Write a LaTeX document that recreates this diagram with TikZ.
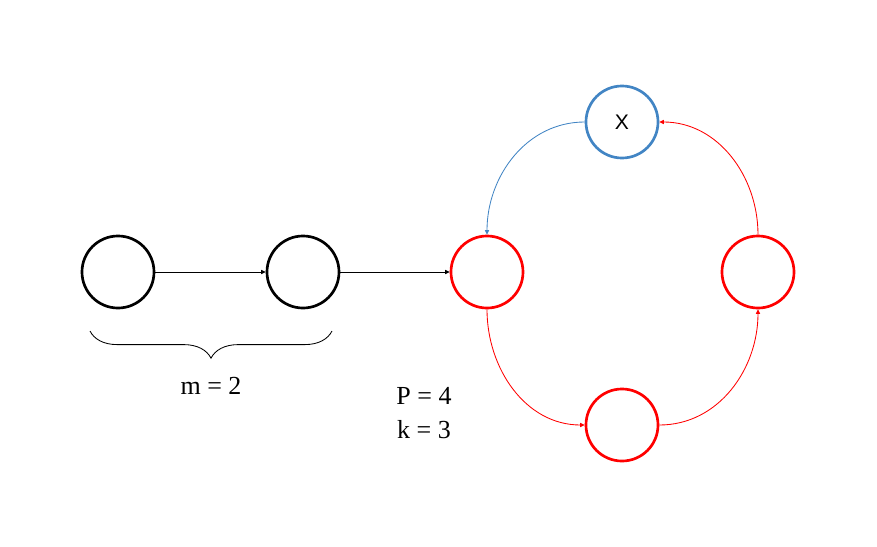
\documentclass[tikz,border=0pt]{standalone}
\usepackage{fontspec}
\setmainfont{Liberation Serif}
\newfontfamily\sansx{Liberation Sans}
\usetikzlibrary{arrows.meta,decorations.pathreplacing}
\definecolor{xblue}{RGB}{66,133,196}
\definecolor{xred}{RGB}{255,0,0}
\tikzset{
  st/.style ={circle,draw=black,line width=1.9pt,minimum size=1.8cm,inner sep=0pt},
  rst/.style={st,draw=xred},
  bst/.style={st,draw=xblue,font=\sansx\fontsize{15}{17}\selectfont},
  ar/.style ={-{Triangle[length=3.2pt,width=3pt]},line width=.6pt},
  lbl/.style={font=\fontsize{18.5}{20}\selectfont,inner sep=0pt},
}

\begin{document}
\begin{tikzpicture}[x=0.025cm,y=-0.025cm]
  \useasboundingbox (0,0) rectangle (877,547);
  % chain of length m
  \node[st] (a) at (118,272) {};
  \node[st] (b) at (303,272) {};
  % cycle of length P
  \node[rst] (c1) at (487,272) {};
  \node[rst] (c2) at (622,425) {};
  \node[rst] (c3) at (758,272) {};
  \node[bst] (x) at (622,122) {X};
  \draw[ar] (a) -- (b);
  \draw[ar] (b) -- (c1);
  \draw[ar,xred] (c1) to[out=-90,in=180] (c2);
  \draw[ar,xred] (c2) to[out=0,in=-90] (c3);
  \draw[ar,xred] (c3) to[out=90,in=0] (x);
  \draw[ar,xblue] (x) to[out=180,in=90] (c1);
  % brace and labels
  \draw[line width=.6pt,decorate,decoration={brace,amplitude=0.68cm}]
    (332,331) -- (90,331);
  \node[lbl] (m) at (211,386) {m = 2};
  \node[lbl] (p) at (424,396) {P = 4};
  \node[lbl] (k) at (424,430) {k = 3};
\end{tikzpicture}
\end{document}
